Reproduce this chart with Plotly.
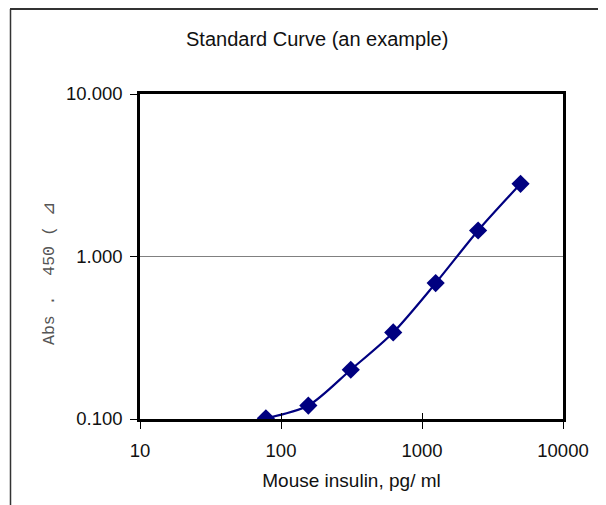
import plotly.graph_objects as go

# Data
insulin_pg_ml = [78.125, 156.25, 312.5, 625, 1250, 2500, 5000]
abs450 = [0.101, 0.121, 0.201, 0.341, 0.686, 1.445, 2.80]

x_tickvals = [10, 100, 1000, 10000]
x_ticktext = ["10", "100", "1000", "10000"]
y_tickvals = [0.1, 1, 10]
y_ticktext = ["0.100", "1.000", "10.000"]

title_text = "Standard Curve (an example)"
x_title = "Mouse insulin, pg/ ml"
y_title = "Abs .  450 ( \u22bf"

# page has an 8px body margin; figure placed at (8, 8)
OFF = 8
W, H = 606 - OFF, 505 - OFF
L, R, T, B = 140 - OFF, 606 - 563, 94 - OFF, 505 - 419
pw, ph = W - L - R, H - T - B

def px_x(p):
    return (p - OFF - L) / pw

def px_y(p):
    return (H - B - (p - OFF)) / ph

fig = go.Figure()
fig.add_trace(go.Scatter(
    x=insulin_pg_ml, y=abs450, mode="lines+markers",
    line=dict(color="#000080", width=2.2, shape="spline", smoothing=0.8),
    marker=dict(symbol="diamond", size=14, color="#000080"),
    showlegend=False, hoverinfo="x+y",
))
# empty trace on overlay axis for inner tick marks
fig.add_trace(go.Scatter(x=[], y=[], xaxis="x2", yaxis="y", showlegend=False))

font_main = "Liberation Sans, Arial, sans-serif"
fig.update_layout(
    width=W, height=H,
    margin=dict(l=L, r=R, t=T, b=B),
    paper_bgcolor="white", plot_bgcolor="white",
    font=dict(family=font_main, size=18, color="#111111"),
    xaxis=dict(
        type="log", range=[1, 4],
        tickvals=x_tickvals, ticktext=x_ticktext,
        showgrid=False, zeroline=False,
        showline=True, linecolor="black", linewidth=2.5, mirror=True,
        ticks="outside", ticklen=7, tickwidth=1, tickcolor="black",
        ticklabelstandoff=6,
        tickfont=dict(size=18.5, family=font_main, color="#111111"),
        title=dict(text=x_title, font=dict(size=19, family=font_main, color="#111111"), standoff=14),
    ),
    xaxis2=dict(
        type="log", range=[1, 4], overlaying="x", side="bottom",
        tickvals=x_tickvals, showticklabels=False,
        showgrid=False, zeroline=False, showline=False,
        ticks="inside", ticklen=6, tickwidth=1, tickcolor="black",
    ),
    yaxis=dict(
        type="log", range=[-1, 1],
        tickvals=y_tickvals, ticktext=y_ticktext,
        showgrid=True, gridcolor="#808080", gridwidth=1, zeroline=False,
        showline=True, linecolor="black", linewidth=2.5, mirror=True,
        ticks="outside", ticklen=7, tickwidth=1, tickcolor="black",
        ticklabelstandoff=4,
        tickfont=dict(size=18.5, family=font_main, color="#111111"),
    ),
)

fig.add_annotation(
    text=title_text, xref="paper", yref="paper",
    x=px_x(317), y=px_y(39), xanchor="center", yanchor="middle",
    showarrow=False, font=dict(size=20, family=font_main, color="#111111"),
)
fig.add_annotation(
    text=y_title, xref="paper", yref="paper",
    x=px_x(49), y=px_y(274), xanchor="center", yanchor="middle",
    textangle=-90, showarrow=False,
    font=dict(size=16.5, family="Liberation Mono, DejaVu Sans Mono, monospace", color="#555555"),
)

# outer chart frame (top and left edges)
fig.add_shape(type="line", xref="paper", yref="paper",
              x0=px_x(10), x1=px_x(606), y0=px_y(9), y1=px_y(9),
              line=dict(color="#333333", width=2))
fig.add_shape(type="line", xref="paper", yref="paper",
              x0=px_x(10.5), x1=px_x(10.5), y0=px_y(9), y1=px_y(505),
              line=dict(color="#333333", width=1.5))

fig.write_html("out.html")
